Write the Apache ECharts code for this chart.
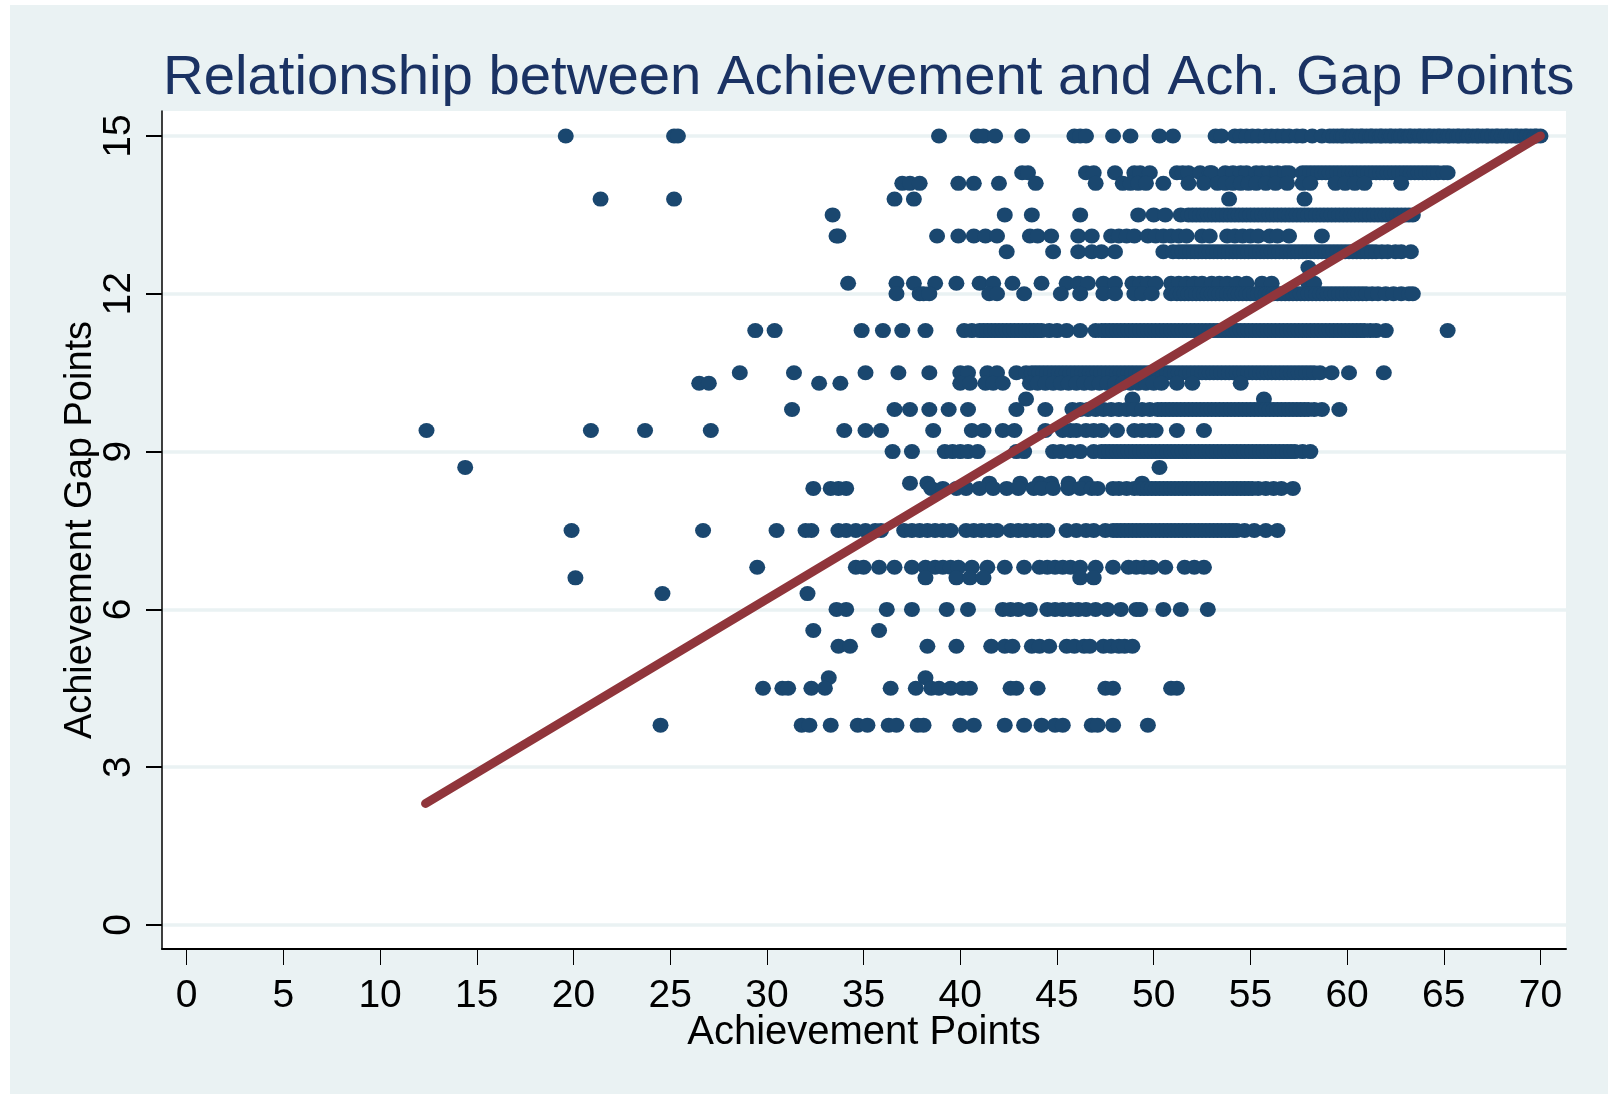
<!DOCTYPE html>
<html>
<head>
<meta charset="utf-8">
<title>Achievement vs Gap Points</title>
<script src="https://cdn.jsdelivr.net/npm/echarts@6/dist/echarts.min.js"></script>
<style>
    html, body { margin: 0; padding: 0; background: #fff; }
    #bg { position: absolute; left: 10px; top: 5px; width: 1598px; height: 1089px; background: #eaf2f3; }
    #chart { position: absolute; left: 0; top: 0; width: 1608px; height: 1094px; }
</style>
</head>
<body>
<div id="bg"></div>
<div id="chart"></div>
<script>
var xTicks = [0, 5, 10, 15, 20, 25, 30, 35, 40, 45, 50, 55, 60, 65, 70];
var yTicks = [0, 3, 6, 9, 12, 15];

// x values, one list per gap-points level
var gap150 = [19.6, 25.2, 25.4, 38.9, 40.9, 41.2, 41.8, 43.2, 45.9, 46.2, 46.5, 47.9, 48.8, 50.3, 51.0, 53.2, 53.5, 54.2, 54.5, 54.8, 55.1, 55.4, 55.8, 56.1, 56.4, 56.7, 57.0, 57.4, 57.7, 58.2, 58.7, 59.1, 59.3, 59.5, 59.7, 59.8, 60.0, 60.2, 60.3, 60.5, 60.7, 60.8, 61.0, 61.2, 61.3, 61.5, 61.7, 61.8, 62.0, 62.2, 62.3, 62.5, 62.7, 62.8, 63.0, 63.2, 63.3, 63.5, 63.7, 63.8, 64.0, 64.2, 64.3, 64.5, 64.7, 64.8, 65.0, 65.2, 65.3, 65.5, 65.7, 65.8, 66.0, 66.2, 66.3, 66.5, 66.7, 66.8, 67.0, 67.2, 67.3, 67.5, 67.7, 67.8, 68.0, 68.2, 68.3, 68.5, 68.7, 68.8, 69.0, 69.2, 69.3, 69.5, 69.7, 69.8, 70.0];
var gap143 = [43.2, 43.5, 46.5, 46.9, 48.0, 49.0, 49.3, 49.8, 51.2, 51.5, 51.8, 52.4, 52.9, 53.0, 53.7, 54.1, 54.5, 54.8, 55.3, 55.6, 56.0, 56.4, 56.8, 57.0, 57.7, 57.9, 58.1, 58.3, 58.5, 58.7, 58.9, 59.1, 59.3, 59.5, 59.7, 59.9, 60.1, 60.3, 60.5, 60.7, 60.9, 61.1, 61.3, 61.5, 61.7, 61.9, 62.1, 62.3, 62.5, 62.7, 62.9, 63.1, 63.3, 63.5, 63.7, 63.9, 64.1, 64.3, 64.5, 64.7, 65.0, 65.2];
var gap141 = [37.0, 37.4, 37.9, 39.9, 40.7, 42.0, 43.9, 47.0, 48.4, 48.8, 49.2, 49.6, 50.5, 51.8, 52.6, 53.3, 53.7, 54.1, 54.5, 54.9, 55.3, 55.8, 56.3, 56.9, 57.7, 58.1, 59.4, 59.9, 60.4, 60.9, 62.8];
var gap138 = [21.4, 25.2, 36.6, 37.6, 53.9, 57.8];
var gap135 = [33.4, 42.3, 43.7, 46.2, 49.2, 50.0, 50.6, 51.4, 51.8, 52.0, 52.2, 52.4, 52.6, 52.8, 53.0, 53.2, 53.4, 53.6, 53.8, 54.0, 54.2, 54.4, 54.6, 54.8, 55.0, 55.2, 55.4, 55.6, 55.8, 56.0, 56.2, 56.4, 56.6, 56.8, 57.0, 57.2, 57.4, 57.6, 57.8, 58.0, 58.2, 58.4, 58.6, 58.8, 59.0, 59.2, 59.4, 59.6, 59.8, 60.0, 60.2, 60.4, 60.6, 60.8, 61.0, 61.2, 61.4, 61.6, 61.8, 62.0, 62.2, 62.4, 62.6, 62.8, 63.0, 63.2, 63.4];
var gap131 = [33.6, 33.7, 38.8, 39.9, 40.7, 41.3, 41.9, 43.6, 44.0, 44.7, 46.1, 46.8, 47.8, 48.2, 48.6, 49.0, 49.7, 50.1, 50.5, 50.9, 51.3, 51.7, 52.5, 52.9, 53.8, 54.2, 54.6, 55.0, 55.4, 56.0, 56.4, 57.0, 58.7];
var gap128 = [42.4, 44.8, 46.1, 46.8, 47.3, 48.0, 50.5, 51.0, 51.3, 51.5, 51.7, 51.9, 52.1, 52.3, 52.5, 52.7, 52.9, 53.1, 53.3, 53.5, 53.7, 53.9, 54.1, 54.3, 54.5, 54.7, 54.9, 55.1, 55.3, 55.5, 55.7, 55.9, 56.1, 56.3, 56.5, 56.7, 56.9, 57.1, 57.3, 57.5, 57.7, 57.9, 58.1, 58.3, 58.5, 58.7, 58.9, 59.1, 59.3, 59.5, 59.7, 59.9, 60.1, 60.3, 60.5, 60.7, 60.9, 61.1, 61.3, 61.5, 61.8, 62.1, 62.5, 62.8, 63.3];
var gap125 = [58.0];
var gap122 = [34.2, 36.7, 37.6, 38.7, 39.8, 41.0, 41.7, 42.7, 44.2, 45.5, 46.1, 46.6, 47.4, 48.0, 48.9, 49.3, 49.7, 50.1, 50.9, 51.3, 51.7, 52.1, 52.5, 53.0, 53.4, 53.8, 54.3, 54.8, 55.6, 56.1, 58.0, 58.3];
var gap120 = [36.7, 37.9, 38.1, 38.4, 41.5, 41.9, 43.3, 45.2, 46.2, 47.4, 48.0, 49.0, 49.4, 49.9, 50.9, 51.2, 51.4, 51.6, 51.8, 52.0, 52.2, 52.4, 52.6, 52.8, 53.0, 53.2, 53.4, 53.6, 53.8, 54.0, 54.2, 54.4, 54.6, 54.8, 55.0, 55.2, 55.4, 55.6, 55.8, 56.0, 56.2, 56.4, 56.6, 56.8, 57.0, 57.2, 57.4, 57.6, 57.8, 58.0, 58.2, 58.4, 58.6, 58.8, 59.0, 59.2, 59.4, 59.6, 59.8, 60.0, 60.2, 60.4, 60.6, 60.8, 61.0, 61.3, 61.6, 62.0, 62.4, 62.8, 63.2, 63.4];
var gap113 = [29.4, 30.4, 34.9, 36.0, 37.0, 38.2, 40.2, 40.6, 41.0, 41.2, 41.4, 41.6, 41.8, 42.0, 42.2, 42.4, 42.6, 42.8, 43.0, 43.2, 43.4, 43.6, 43.8, 44.0, 44.2, 44.6, 45.0, 45.5, 46.2, 47.0, 47.3, 47.5, 47.7, 47.9, 48.1, 48.3, 48.5, 48.7, 48.9, 49.1, 49.3, 49.5, 49.7, 49.9, 50.1, 50.3, 50.5, 50.7, 50.9, 51.1, 51.3, 51.5, 51.7, 51.9, 52.1, 52.3, 52.5, 52.7, 52.9, 53.1, 53.3, 53.5, 53.7, 53.9, 54.1, 54.3, 54.5, 54.7, 54.9, 55.1, 55.3, 55.5, 55.7, 55.9, 56.1, 56.3, 56.5, 56.7, 56.9, 57.1, 57.3, 57.5, 57.7, 57.9, 58.1, 58.3, 58.5, 58.7, 58.9, 59.1, 59.3, 59.5, 59.7, 59.9, 60.1, 60.3, 60.5, 60.7, 60.9, 61.2, 61.5, 62.0, 65.2];
var gap105 = [28.6, 31.4, 35.1, 36.8, 38.4, 40.0, 40.4, 41.4, 41.9, 42.9, 43.4, 43.7, 43.9, 44.1, 44.3, 44.5, 44.7, 44.9, 45.1, 45.3, 45.5, 45.7, 45.9, 46.1, 46.3, 46.5, 46.7, 46.9, 47.1, 47.3, 47.5, 47.7, 47.9, 48.1, 48.3, 48.5, 48.7, 48.9, 49.1, 49.3, 49.5, 49.7, 49.9, 50.1, 50.3, 50.5, 50.7, 50.9, 51.1, 51.3, 51.5, 51.7, 51.9, 52.1, 52.3, 52.5, 52.7, 52.9, 53.1, 53.3, 53.5, 53.7, 53.9, 54.1, 54.3, 54.5, 54.7, 54.9, 55.1, 55.3, 55.5, 55.7, 55.9, 56.1, 56.3, 56.5, 56.7, 56.9, 57.1, 57.3, 57.5, 57.7, 57.9, 58.1, 58.3, 58.6, 59.2, 60.1, 61.9];
var gap103 = [26.5, 27.0, 32.7, 33.8, 40.0, 40.5, 41.3, 41.7, 42.2, 43.6, 44.0, 44.4, 44.8, 45.2, 45.6, 46.0, 46.4, 46.8, 47.2, 47.6, 48.0, 48.4, 48.8, 49.2, 49.6, 50.0, 50.4, 51.2, 52.0, 54.5];
var gap100 = [43.4, 48.9, 55.7];
var gap98 = [31.3, 36.6, 37.4, 38.4, 39.4, 40.4, 42.9, 44.4, 45.8, 46.2, 46.6, 47.0, 47.4, 47.8, 48.2, 48.6, 49.0, 49.4, 49.8, 50.2, 50.4, 50.6, 50.8, 51.0, 51.2, 51.4, 51.6, 51.8, 52.0, 52.2, 52.4, 52.6, 52.8, 53.0, 53.2, 53.4, 53.6, 53.8, 54.0, 54.2, 54.4, 54.6, 54.8, 55.0, 55.2, 55.4, 55.6, 55.8, 56.0, 56.2, 56.4, 56.6, 56.8, 57.0, 57.2, 57.4, 57.6, 57.8, 58.0, 58.3, 58.7, 59.6];
var gap94 = [12.4, 20.9, 23.7, 27.1, 34.0, 35.1, 35.9, 38.6, 40.6, 41.2, 42.2, 42.8, 44.4, 45.3, 45.7, 46.0, 46.5, 46.9, 47.3, 48.1, 49.0, 49.4, 49.8, 50.1, 51.2, 52.6];
var gap90 = [36.5, 37.5, 39.2, 39.6, 40.0, 40.4, 40.9, 42.9, 43.3, 44.8, 45.2, 45.7, 46.2, 46.9, 47.3, 47.5, 47.7, 47.9, 48.1, 48.3, 48.5, 48.7, 48.9, 49.1, 49.3, 49.5, 49.7, 49.9, 50.1, 50.3, 50.5, 50.7, 50.9, 51.1, 51.3, 51.5, 51.7, 51.9, 52.1, 52.3, 52.5, 52.7, 52.9, 53.1, 53.3, 53.5, 53.7, 53.9, 54.1, 54.3, 54.5, 54.7, 54.9, 55.1, 55.3, 55.5, 55.7, 55.9, 56.1, 56.3, 56.5, 56.7, 56.9, 57.1, 57.3, 57.7, 58.1];
var gap87 = [14.4, 50.3];
var gap84 = [37.4, 38.3, 41.5, 43.1, 44.1, 44.7, 45.6, 46.5, 49.4];
var gap83 = [32.4, 33.3, 33.7, 34.1, 38.5, 39.1, 39.8, 40.3, 41.0, 41.7, 42.4, 43.0, 43.8, 44.2, 44.8, 45.6, 46.2, 46.8, 47.1, 47.9, 48.2, 48.6, 49.0, 49.3, 49.5, 49.7, 49.9, 50.1, 50.3, 50.5, 50.7, 50.9, 51.1, 51.3, 51.5, 51.7, 51.9, 52.1, 52.3, 52.5, 52.7, 52.9, 53.1, 53.3, 53.5, 53.7, 53.9, 54.1, 54.3, 54.5, 54.7, 54.9, 55.1, 55.4, 55.8, 56.2, 56.6, 57.2];
var gap75 = [19.9, 26.7, 30.5, 32.0, 32.3, 33.7, 34.1, 34.6, 35.1, 35.6, 35.9, 37.1, 37.5, 37.9, 38.3, 38.7, 39.1, 39.5, 40.3, 40.7, 41.1, 41.5, 41.9, 42.6, 43.0, 43.4, 43.8, 44.2, 44.5, 45.5, 46.0, 46.5, 46.9, 47.5, 47.9, 48.1, 48.3, 48.5, 48.7, 48.9, 49.1, 49.3, 49.5, 49.7, 49.9, 50.1, 50.3, 50.5, 50.7, 50.9, 51.1, 51.3, 51.5, 51.7, 51.9, 52.1, 52.3, 52.5, 52.7, 52.9, 53.1, 53.3, 53.5, 53.7, 53.9, 54.1, 54.3, 54.7, 55.2, 55.8, 56.4];
var gap68 = [29.5, 34.6, 35.0, 35.8, 36.6, 37.5, 38.2, 38.7, 39.1, 39.5, 39.9, 40.6, 41.4, 42.3, 43.3, 44.1, 44.5, 44.9, 45.3, 45.7, 46.2, 47.0, 47.9, 48.7, 49.1, 49.5, 49.9, 50.6, 51.6, 52.1, 52.6];
var gap66 = [20.1, 38.2, 39.8, 40.5, 41.2, 46.2, 46.9];
var gap63 = [24.6, 32.1];
var gap60 = [33.6, 34.1, 36.2, 37.5, 39.3, 40.4, 42.2, 42.6, 43.0, 43.6, 44.5, 44.9, 45.3, 45.7, 46.1, 46.5, 47.0, 47.6, 48.3, 49.1, 49.3, 50.5, 51.4, 52.8];
var gap56 = [32.4, 35.8];
var gap53 = [33.7, 34.3, 38.3, 39.8, 41.6, 42.3, 42.7, 43.7, 44.1, 44.6, 45.5, 45.9, 46.4, 46.7, 47.4, 47.8, 48.2, 48.5, 48.9];
var gap47 = [33.2, 38.2];
var gap45 = [29.8, 30.8, 31.1, 32.3, 33.0, 36.4, 37.7, 38.5, 38.9, 39.5, 40.1, 40.5, 42.6, 42.9, 44.0, 47.5, 47.9, 50.9, 51.2];
var gap38 = [24.5, 31.8, 32.2, 33.3, 34.7, 35.2, 36.3, 36.7, 37.8, 38.1, 40.0, 40.7, 42.3, 43.3, 44.2, 44.9, 45.3, 46.8, 47.1, 47.9, 49.7];

var gapLevels = [15, 14.3, 14.1, 13.8, 13.5, 13.1, 12.8, 12.5, 12.2, 12, 11.3, 10.5, 10.3, 10, 9.8, 9.4, 9, 8.7, 8.4, 8.3, 7.5, 6.8, 6.6, 6.3, 6, 5.6, 5.3, 4.7, 4.5, 3.8];
var gapValues = [gap150, gap143, gap141, gap138, gap135, gap131, gap128, gap125, gap122, gap120, gap113, gap105, gap103, gap100, gap98, gap94, gap90, gap87, gap84, gap83, gap75, gap68, gap66, gap63, gap60, gap56, gap53, gap47, gap45, gap38];

var fitLine = [[12.35, 2.31], [70, 15]];

var points = [];
gapLevels.forEach(function (level, index) {
    gapValues[index].forEach(function (x) {
        points.push([x, level]);
    });
});

var fontName = '"Liberation Sans", Arial, sans-serif';

var chart = echarts.init(document.getElementById('chart'));
chart.setOption({
    animation: false,
    backgroundColor: 'transparent',
    title: {
        text: 'Relationship between Achievement and Ach. Gap Points',
        left: 158,
        top: 45,
        textStyle: { color: '#1a3263', fontSize: 56.3, fontWeight: 'normal', fontFamily: fontName }
    },
    grid: {
        show: true, backgroundColor: '#fff', borderWidth: 0,
        left: 162, top: 111, width: 1404, height: 838
    },
    xAxis: {
        type: 'value',
        min: -1.277, max: 71.32,
        name: 'Achievement Points',
        nameLocation: 'middle',
        nameGap: 64,
        nameMoveOverlap: false,
        nameTextStyle: { color: '#000', fontSize: 40, fontFamily: fontName },
        axisLine: { show: true, onZero: false, lineStyle: { color: '#000', width: 2 } },
        axisTick: { show: true, length: 16, customValues: xTicks, lineStyle: { color: '#000', width: 1 } },
        axisLabel: { customValues: xTicks, margin: 28, color: '#000', fontSize: 39, fontFamily: fontName, hideOverlap: false, showMinLabel: true, showMaxLabel: true },
        splitLine: { show: false }
    },
    yAxis: {
        type: 'value',
        min: -0.456, max: 15.475,
        name: 'Achievement Gap Points',
        nameLocation: 'middle',
        nameGap: 62,
        nameMoveOverlap: false,
        nameTextStyle: { color: '#000', fontSize: 38, fontFamily: fontName },
        axisLine: { show: true, onZero: false, lineStyle: { color: '#000', width: 1.5 } },
        axisTick: { show: true, length: 16, customValues: yTicks, lineStyle: { color: '#000', width: 2 } },
        axisLabel: { customValues: yTicks, rotate: 90, margin: 23, color: '#000', fontSize: 39, fontFamily: fontName, hideOverlap: false },
        splitLine: { show: true, lineStyle: { color: '#eaf2f3', width: 3.5 } }
    },
    series: [
        {
            name: 'Gap points',
            type: 'scatter',
            symbol: 'circle',
            symbolSize: [16, 15],
            itemStyle: { color: '#1a476f', opacity: 1 },
            data: points,
            z: 2
        },
        {
            name: 'Fit',
            type: 'line',
            showSymbol: false,
            symbol: 'none',
            data: fitLine,
            lineStyle: { color: '#90353b', width: 9, cap: 'round' },
            z: 3
        }
    ]
});
</script>
</body>
</html>
